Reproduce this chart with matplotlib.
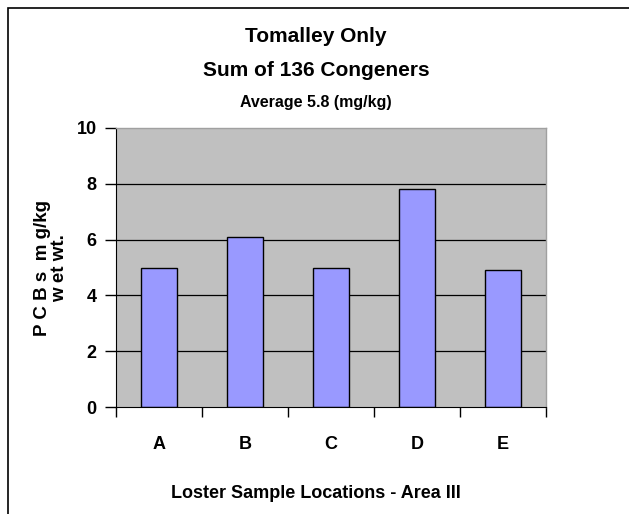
import matplotlib
matplotlib.use("Agg")
import matplotlib.pyplot as plt
from matplotlib import font_manager
from matplotlib.patches import Rectangle

categories = ["A", "B", "C", "D", "E"]
values = [5.0, 6.1, 5.0, 7.8, 4.9]
yticks = [0, 2, 4, 6, 8, 10]

names = {f.name for f in font_manager.fontManager.ttflist}
fam = "Liberation Sans Narrow" if "Liberation Sans Narrow" in names else "Liberation Sans"
plt.rcParams["font.family"] = [fam, "DejaVu Sans"]
plt.rcParams["font.weight"] = "bold"

W, H = 629, 514
fig = plt.figure(figsize=(W / 100, H / 100), dpi=100)
fig.patch.set_facecolor("white")

# outer chart frame
fig.patches.append(Rectangle((8 / W, -0.1), 1.2, (H - 8) / H + 0.1, transform=fig.transFigure,
                             fill=False, edgecolor="black", linewidth=1.2, clip_on=False))

left, right, top, bottom = 116, 546, 128, 407
ax = fig.add_axes([left / W, 1 - bottom / H, (right - left) / W, (bottom - top) / H])
ax.set_facecolor("#c0c0c0")

x = list(range(len(categories)))
ax.bar(x, values, width=0.41, color="#9999ff", edgecolor="black", linewidth=1.0, zorder=3)

ax.set_xlim(-0.5, len(categories) - 0.5)
ax.set_ylim(0, 10)
ax.set_yticks(yticks)
ax.set_yticklabels([str(t) for t in yticks], fontsize=13, fontweight="bold")
for t in yticks[1:-1]:
    ax.axhline(t, color="black", linewidth=0.9, zorder=1)

ax.set_xticks([i - 0.5 for i in range(len(categories) + 1)])
ax.set_xticklabels([])
ax.set_xticks(x, minor=True)
ax.set_xticklabels(categories, minor=True, fontsize=13, fontweight="bold")
ax.tick_params(axis="x", which="major", direction="out", length=7, width=1, color="black")
ax.tick_params(axis="x", which="minor", length=0, pad=21)
ax.tick_params(axis="y", direction="out", length=8, width=1, pad=6)

for s in ["top", "right"]:
    ax.spines[s].set_color("#a0a0a0")
    ax.spines[s].set_linewidth(1)
ax.spines["left"].set_color("black")
ax.spines["bottom"].set_color("black")
ax.spines["bottom"].set_zorder(4)

cx = 316 / W
fig.text(cx, 1 - 36 / H, "Tomalley Only", ha="center", va="center", fontsize=15, fontweight="bold")
fig.text(cx, 1 - 70 / H, "Sum of 136 Congeners", ha="center", va="center", fontsize=15, fontweight="bold")
fig.text(cx, 1 - 102 / H, "Average 5.8 (mg/kg)", ha="center", va="center", fontsize=11.5, fontweight="bold")
fig.text(cx, 1 - 493 / H, "Loster Sample Locations - Area III", ha="center", va="center",
         fontsize=13, fontweight="bold")
fig.text(51 / W, 1 - 268 / H, "P C B s  m g/kg\nw et wt.", ha="center", va="center",
         rotation=90, fontsize=13.5, fontweight="bold", linespacing=0.95)

fig.savefig("out.png", dpi=100, facecolor="white")
